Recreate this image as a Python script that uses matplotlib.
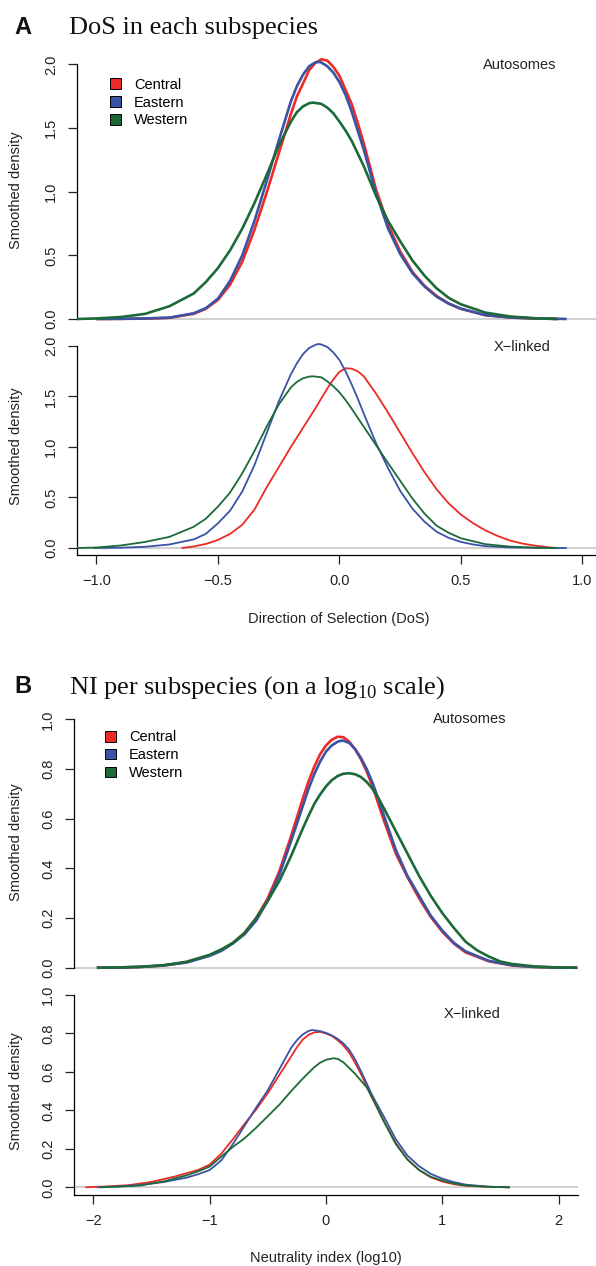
"""Smoothed density of DoS and NI (log10) per chimpanzee subspecies."""

import matplotlib
matplotlib.use("Agg")
import matplotlib.pyplot as plt
from matplotlib.patches import Patch

# ---- data ------------------------------------------------------------------
subspecies = ["Central", "Eastern", "Western"]
colors = ["#ED2A26", "#3A53A4", "#1C6A39"]

# DoS, autosomes
dos_auto_central_x = [-1.0, -0.9, -0.8, -0.7, -0.6, -0.55, -0.5, -0.45, -0.4, -0.35, -0.3, -0.25, -0.2,
                      -0.175, -0.15, -0.125, -0.1, -0.075, -0.05, -0.025, 0.0, 0.025, 0.05, 0.075, 0.1,
                      0.125, 0.15, 0.2, 0.25, 0.3, 0.35, 0.4, 0.45, 0.5, 0.6, 0.7, 0.8, 0.9]
dos_auto_central_y = [0.0, 0.001, 0.003, 0.009, 0.04, 0.08, 0.15, 0.27, 0.45, 0.70, 0.99, 1.30, 1.61,
                      1.75, 1.85, 1.955, 2.01, 2.04, 2.03, 1.98, 1.91, 1.80, 1.69, 1.54, 1.38,
                      1.20, 1.02, 0.74, 0.53, 0.37, 0.26, 0.18, 0.12, 0.08, 0.03, 0.012, 0.004, 0.0]
dos_auto_eastern_x = [-1.0, -0.9, -0.8, -0.7, -0.6, -0.55, -0.5, -0.45, -0.4, -0.35, -0.3, -0.25, -0.2,
                      -0.175, -0.15, -0.125, -0.1, -0.085, -0.075, -0.05, -0.025, 0.0, 0.025, 0.05, 0.075,
                      0.1, 0.125, 0.15, 0.2, 0.25, 0.3, 0.35, 0.4, 0.45, 0.5, 0.6, 0.7, 0.8, 0.935]
dos_auto_eastern_y = [0.0, 0.001, 0.004, 0.01, 0.045, 0.085, 0.16, 0.30, 0.50, 0.77, 1.08, 1.40, 1.71,
                      1.83, 1.92, 1.985, 2.015, 2.02, 2.015, 1.985, 1.935, 1.86, 1.76, 1.63, 1.48,
                      1.33, 1.16, 0.99, 0.71, 0.51, 0.36, 0.255, 0.175, 0.12, 0.08, 0.03, 0.012, 0.004, 0.0]
dos_auto_western_x = [-1.08, -1.0, -0.9, -0.8, -0.7, -0.6, -0.55, -0.5, -0.45, -0.4, -0.35, -0.3, -0.25,
                      -0.2, -0.175, -0.15, -0.125, -0.11, -0.075, -0.05, -0.025, 0.0, 0.025, 0.05, 0.1,
                      0.15, 0.2, 0.25, 0.3, 0.35, 0.4, 0.45, 0.5, 0.6, 0.7, 0.8, 0.894]
dos_auto_western_y = [0.0, 0.004, 0.015, 0.04, 0.10, 0.20, 0.29, 0.40, 0.54, 0.71, 0.91, 1.13, 1.36,
                      1.55, 1.625, 1.67, 1.695, 1.70, 1.69, 1.66, 1.615, 1.55, 1.48, 1.40, 1.20,
                      0.97, 0.77, 0.61, 0.46, 0.34, 0.24, 0.165, 0.115, 0.05, 0.02, 0.006, 0.0]

# DoS, X-linked
dos_x_central_x = [-0.65, -0.6, -0.55, -0.5, -0.45, -0.4, -0.35, -0.3, -0.25, -0.2, -0.15, -0.1, -0.05,
                   -0.025, 0.0, 0.025, 0.05, 0.075, 0.1, 0.15, 0.2, 0.25, 0.3, 0.35, 0.4, 0.45, 0.5,
                   0.55, 0.6, 0.65, 0.7, 0.75, 0.8, 0.85, 0.89]
dos_x_central_y = [0.0, 0.015, 0.04, 0.08, 0.14, 0.23, 0.38, 0.60, 0.80, 1.00, 1.19, 1.38, 1.58,
                   1.67, 1.745, 1.78, 1.775, 1.75, 1.70, 1.53, 1.34, 1.14, 0.94, 0.75, 0.58, 0.44, 0.33,
                   0.245, 0.175, 0.12, 0.075, 0.045, 0.025, 0.01, 0.0]
dos_x_eastern_x = [-1.013, -0.9, -0.8, -0.7, -0.6, -0.55, -0.5, -0.45, -0.4, -0.35, -0.3, -0.25, -0.2,
                   -0.175, -0.15, -0.125, -0.1, -0.087, -0.075, -0.05, -0.025, 0.0, 0.025, 0.05, 0.075,
                   0.1, 0.15, 0.2, 0.25, 0.3, 0.35, 0.4, 0.45, 0.5, 0.55, 0.6, 0.7, 0.8, 0.935]
dos_x_eastern_y = [0.0, 0.003, 0.012, 0.035, 0.085, 0.14, 0.245, 0.37, 0.56, 0.82, 1.135, 1.45, 1.72,
                   1.83, 1.92, 1.98, 2.01, 2.02, 2.015, 1.99, 1.935, 1.86, 1.75, 1.62, 1.48,
                   1.33, 1.04, 0.79, 0.565, 0.39, 0.26, 0.16, 0.10, 0.06, 0.035, 0.018, 0.006, 0.002, 0.0]
dos_x_western_x = [-1.08, -1.0, -0.9, -0.8, -0.7, -0.6, -0.55, -0.5, -0.45, -0.4, -0.35, -0.3, -0.25,
                   -0.2, -0.175, -0.15, -0.125, -0.11, -0.075, -0.05, -0.025, 0.0, 0.025, 0.05, 0.1,
                   0.15, 0.2, 0.25, 0.3, 0.35, 0.4, 0.45, 0.5, 0.6, 0.7, 0.8, 0.894]
dos_x_western_y = [0.0, 0.005, 0.025, 0.06, 0.11, 0.21, 0.29, 0.41, 0.55, 0.74, 0.96, 1.20, 1.42,
                   1.59, 1.645, 1.68, 1.697, 1.70, 1.69, 1.65, 1.60, 1.54, 1.465, 1.38, 1.20,
                   1.02, 0.84, 0.665, 0.49, 0.34, 0.22, 0.15, 0.096, 0.038, 0.014, 0.004, 0.0]

# NI (log10), autosomes
ni_auto_central_x = [-1.97, -1.8, -1.6, -1.4, -1.2, -1.0, -0.9, -0.8, -0.7, -0.6, -0.5, -0.4, -0.3,
                     -0.2, -0.15, -0.1, -0.05, 0.0, 0.05, 0.1, 0.15, 0.2, 0.25, 0.3, 0.35, 0.4, 0.45,
                     0.5, 0.6, 0.7, 0.8, 0.9, 1.0, 1.1, 1.2, 1.4, 1.6, 1.8, 2.0, 2.16]
ni_auto_central_y = [0.0, 0.001, 0.003, 0.009, 0.022, 0.05, 0.07, 0.10, 0.14, 0.20, 0.28, 0.39, 0.53,
                     0.68, 0.75, 0.81, 0.86, 0.895, 0.918, 0.93, 0.928, 0.91, 0.88, 0.84, 0.79, 0.73, 0.66,
                     0.59, 0.46, 0.365, 0.28, 0.205, 0.145, 0.097, 0.062, 0.026, 0.009, 0.003, 0.001, 0.0]
ni_auto_eastern_x = [-1.97, -1.8, -1.6, -1.4, -1.2, -1.0, -0.9, -0.8, -0.7, -0.6, -0.5, -0.4, -0.3,
                     -0.2, -0.15, -0.1, -0.05, 0.0, 0.05, 0.1, 0.14, 0.2, 0.25, 0.3, 0.35, 0.4, 0.45,
                     0.5, 0.6, 0.7, 0.8, 0.9, 1.0, 1.1, 1.2, 1.4, 1.6, 1.8, 2.0, 2.16]
ni_auto_eastern_y = [0.0, 0.001, 0.003, 0.009, 0.021, 0.048, 0.068, 0.098, 0.135, 0.19, 0.27, 0.375,
                     0.51, 0.65, 0.72, 0.78, 0.83, 0.87, 0.895, 0.91, 0.915, 0.905, 0.88, 0.845, 0.80,
                     0.745, 0.68, 0.61, 0.475, 0.37, 0.29, 0.21, 0.15, 0.10, 0.066, 0.028, 0.01, 0.003,
                     0.001, 0.0]
ni_auto_western_x = [-1.97, -1.8, -1.6, -1.4, -1.2, -1.0, -0.9, -0.8, -0.7, -0.6, -0.5, -0.4, -0.3,
                     -0.2, -0.15, -0.1, -0.05, 0.0, 0.05, 0.1, 0.15, 0.2, 0.25, 0.3, 0.35, 0.4, 0.45,
                     0.5, 0.6, 0.7, 0.8, 0.9, 1.0, 1.1, 1.2, 1.3, 1.4, 1.5, 1.6, 1.8, 2.0, 2.16]
ni_auto_western_y = [0.0, 0.001, 0.004, 0.01, 0.024, 0.052, 0.074, 0.10, 0.14, 0.20, 0.27, 0.35, 0.45,
                     0.56, 0.612, 0.66, 0.698, 0.73, 0.755, 0.772, 0.781, 0.783, 0.779, 0.768, 0.748,
                     0.72, 0.684, 0.64, 0.55, 0.46, 0.37, 0.29, 0.22, 0.16, 0.105, 0.07, 0.045, 0.025,
                     0.015, 0.005, 0.001, 0.0]

# NI (log10), X-linked
ni_x_central_x = [-2.07, -1.9, -1.7, -1.5, -1.3, -1.1, -1.0, -0.9, -0.8, -0.7, -0.6, -0.5, -0.4, -0.3,
                  -0.25, -0.2, -0.15, -0.1, -0.05, 0.0, 0.05, 0.1, 0.15, 0.2, 0.25, 0.3, 0.35, 0.4, 0.5,
                  0.6, 0.7, 0.8, 0.9, 1.0, 1.1, 1.2, 1.4, 1.58]
ni_x_central_y = [0.0, 0.004, 0.011, 0.028, 0.056, 0.09, 0.118, 0.175, 0.25, 0.33, 0.405, 0.49, 0.585,
                  0.68, 0.728, 0.768, 0.793, 0.806, 0.808, 0.80, 0.787, 0.765, 0.737, 0.70, 0.647,
                  0.59, 0.525, 0.46, 0.34, 0.23, 0.145, 0.09, 0.052, 0.03, 0.016, 0.008, 0.002, 0.0]
ni_x_eastern_x = [-1.97, -1.8, -1.6, -1.4, -1.2, -1.1, -1.0, -0.9, -0.8, -0.7, -0.6, -0.5, -0.4, -0.3,
                  -0.25, -0.2, -0.15, -0.12, -0.05, 0.0, 0.05, 0.1, 0.15, 0.2, 0.25, 0.3, 0.35, 0.4,
                  0.5, 0.6, 0.7, 0.8, 0.9, 1.0, 1.1, 1.2, 1.4, 1.58]
ni_x_eastern_y = [0.0, 0.004, 0.012, 0.027, 0.05, 0.068, 0.09, 0.14, 0.225, 0.32, 0.415, 0.505, 0.615,
                  0.725, 0.765, 0.795, 0.813, 0.818, 0.812, 0.803, 0.79, 0.772, 0.748, 0.715, 0.665,
                  0.605, 0.54, 0.475, 0.365, 0.25, 0.165, 0.11, 0.07, 0.045, 0.027, 0.014, 0.003, 0.0]
ni_x_western_x = [-1.94, -1.8, -1.6, -1.4, -1.2, -1.1, -1.0, -0.9, -0.8, -0.7, -0.6, -0.5, -0.4, -0.3,
                  -0.2, -0.1, -0.05, 0.0, 0.063, 0.1, 0.15, 0.2, 0.25, 0.3, 0.35, 0.4, 0.5, 0.6, 0.7,
                  0.8, 0.9, 1.0, 1.1, 1.2, 1.4, 1.58]
ni_x_western_y = [0.0, 0.003, 0.009, 0.03, 0.062, 0.083, 0.108, 0.16, 0.21, 0.255, 0.31, 0.37, 0.43,
                  0.50, 0.565, 0.625, 0.648, 0.663, 0.671, 0.668, 0.65, 0.62, 0.59, 0.555, 0.52, 0.465,
                  0.34, 0.225, 0.145, 0.09, 0.055, 0.035, 0.02, 0.01, 0.003, 0.0]

dos_yticks = [0.0, 0.5, 1.0, 1.5, 2.0]
dos_xticks = [-1.0, -0.5, 0.0, 0.5, 1.0]
ni_yticks = [0.0, 0.2, 0.4, 0.6, 0.8, 1.0]
ni_xticks = [-2, -1, 0, 1, 2]

# ---- figure ------------------------------------------------------------------
W, H = 596, 1266
plt.rcParams["font.family"] = ["Liberation Sans", "DejaVu Sans"]
plt.rcParams["font.size"] = 10.5
plt.rcParams["mathtext.fontset"] = "custom"
plt.rcParams["mathtext.rm"] = "Liberation Serif"
fig = plt.figure(figsize=(W / 100, H / 100), dpi=100)


def px_rect(left, top, right, bottom):
    # axes rectangle from pixel edges (origin top-left)
    return [left / W, 1 - bottom / H, (right - left) / W, (bottom - top) / H]


def fmt(v, nd):
    return f"{v:.{nd}f}".replace("-", "\u2212")


def density_axes(rect, xlim, ylim, yticks, ydec, xticks=None, xdec=0):
    ax = fig.add_axes(rect)
    ax.set_xlim(*xlim)
    ax.set_ylim(*ylim)
    for s in ["top", "right"]:
        ax.spines[s].set_visible(False)
    ax.spines["left"].set_linewidth(0.9)
    ax.spines["bottom"].set_linewidth(0.9)
    ax.set_yticks(yticks, [fmt(v, ydec) for v in yticks])
    ax.tick_params(axis="both", direction="out", length=6.5, width=0.9, pad=7,
                   labelsize=10.5, colors="#222222")
    ax.tick_params(axis="y", labelrotation=90)
    for lab in ax.get_yticklabels():
        lab.set_va("center")
    if xticks is None:
        ax.spines["bottom"].set_visible(False)
        ax.spines["left"].set_bounds(yticks[0], yticks[-1])
        ax.set_xticks([])
    else:
        ax.spines["left"].set_bounds(ylim[0], yticks[-1])
        ax.set_xticks(xticks, [fmt(v, xdec) for v in xticks])
    ax.axhline(0, color="#c4c4c4", lw=1.1, zorder=1)
    ax.set_ylabel("Smoothed density", fontsize=10.5, color="#222222")
    return ax


def draw(ax, series, lw):
    for (xs, ys), c in zip(series, colors):
        ax.plot(xs, ys, color=c, lw=lw, solid_capstyle="butt", solid_joinstyle="round", zorder=3)


def add_legend(ax, anchor):
    handles = [Patch(facecolor=c, edgecolor="black", linewidth=0.7) for c in colors]
    ax.legend(handles, subspecies, loc="upper left", bbox_to_anchor=anchor, frameon=False,
              borderaxespad=0, borderpad=0, handlelength=0.75, handleheight=0.75,
              handletextpad=0.9, labelspacing=0.26, fontsize=10.5)


# Panel A
axA1 = density_axes(px_rect(77, 54.2, 597, 326.6), (-1.0802, 1.0597), (-0.06, 2.08),
                    dos_yticks, 1)
draw(axA1, [(dos_auto_central_x, dos_auto_central_y),
            (dos_auto_eastern_x, dos_auto_eastern_y),
            (dos_auto_western_x, dos_auto_western_y)], 1.9)
add_legend(axA1, (0.0635, 0.913))
axA1.text(0.742, 1.995, "Autosomes", ha="center", va="center", fontsize=10.5, color="#222222")
axA1.yaxis.set_label_coords(-0.104, 0.5)

axA2 = density_axes(px_rect(77, 337.9, 597, 555), (-1.0802, 1.0597), (-0.0693, 2.08),
                    dos_yticks, 1, xticks=dos_xticks, xdec=1)
draw(axA2, [(dos_x_central_x, dos_x_central_y),
            (dos_x_eastern_x, dos_x_eastern_y),
            (dos_x_western_x, dos_x_western_y)], 1.3)
axA2.text(0.75, 1.993, "X\u2212linked", ha="center", va="center", fontsize=10.5, color="#222222")
axA2.yaxis.set_label_coords(-0.104, 0.5)
axA2.set_xlabel("Direction of Selection (DoS)", fontsize=10.5, color="#222222")
axA2.xaxis.set_label_coords(0.504, -0.263)

# Panel B
axB1 = density_axes(px_rect(73.7, 709.4, 577.7, 975.2), (-2.169, 2.164), (-0.03, 1.04),
                    ni_yticks, 1)
draw(axB1, [(ni_auto_central_x, ni_auto_central_y),
            (ni_auto_eastern_x, ni_auto_eastern_y),
            (ni_auto_western_x, ni_auto_western_y)], 1.9)
add_legend(axB1, (0.062, 0.921))
axB1.text(1.235, 1.0, "Autosomes", ha="center", va="center", fontsize=10.5, color="#222222")
axB1.yaxis.set_label_coords(-0.1005, 0.5)

axB2 = density_axes(px_rect(73.7, 987.3, 577.7, 1195), (-2.169, 2.164), (-0.04, 1.04),
                    ni_yticks, 1, xticks=ni_xticks, xdec=0)
draw(axB2, [(ni_x_central_x, ni_x_central_y),
            (ni_x_eastern_x, ni_x_eastern_y),
            (ni_x_western_x, ni_x_western_y)], 1.3)
axB2.text(1.253, 0.90, "X\u2212linked", ha="center", va="center", fontsize=10.5, color="#222222")
axB2.yaxis.set_label_coords(-0.1005, 0.5)
axB2.set_xlabel("Neutrality index (log10)", fontsize=10.5, color="#222222")
axB2.xaxis.set_label_coords(0.50, -0.27)

# panel letters and titles
for letter, title, base in [("A", "DoS in each subspecies", 34.4),
                            ("B", r"NI per subspecies (on a log$_{\mathrm{10}}$ scale)", 693.5)]:
    fig.text(14 / W, 1 - base / H, letter, ha="left", va="baseline", fontsize=17,
             fontweight="bold", color="#111111")
    fig.text(69 / W, 1 - base / H, title, ha="left", va="baseline", fontsize=19,
             family=["Liberation Serif", "DejaVu Serif"], color="#111111")

fig.savefig("out.png", dpi=100)
